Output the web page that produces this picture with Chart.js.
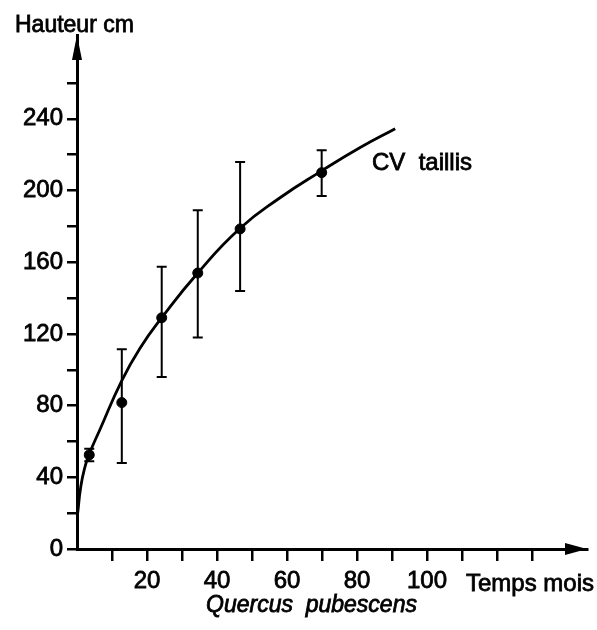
<!DOCTYPE html>
<html>
<head>
<meta charset="utf-8">
<script src="https://cdn.jsdelivr.net/npm/chart.js@4"></script>
<style>
  body { margin: 0; background: #fff; }
  canvas { display: block; }
</style>
</head>
<body>
<canvas id="chart" width="597" height="630"></canvas>
<script>
// courbe ajustée
const curveMonths  = [0.2, 1.1, 2.3, 3.5, 6.4, 12.8, 18, 24.2, 34.5, 46.6, 58, 69.9, 80.9, 90.9];
const curveHeights = [20, 35, 46, 53, 66, 94, 112, 129, 154, 179, 196, 211, 224, 234.5];

// mesures moyennes + barres d'erreur
const pointMonths  = [3.5, 12.8, 24.2, 34.5, 46.6, 69.9];
const pointHeights = [52.5, 81.7, 129, 154, 178.6, 210];
const errLow       = [49, 48, 96, 118, 144, 197];
const errHigh      = [56, 111.5, 157.5, 189, 216, 222.5];

// graduations
const xTickLabels = [20, 40, 60, 80, 100];
const yTickLabels = [0, 40, 80, 120, 160, 200, 240];

const FONT = '"Liberation Sans", Arial, sans-serif';
const INK = '#000';

const toXY = (xs, ys) => xs.map((x, i) => ({ x: x, y: ys[i] }));

// barres d'erreur
const errorBars = {
    id: 'errorBars',
    afterDatasetsDraw(chart) {
        const { ctx, scales: { x, y } } = chart;
        ctx.save();
        ctx.strokeStyle = INK;
        ctx.lineWidth = 2;
        pointMonths.forEach((m, i) => {
            const px = x.getPixelForValue(m);
            const lo = y.getPixelForValue(errLow[i]);
            const hi = y.getPixelForValue(errHigh[i]);
            ctx.beginPath();
            ctx.moveTo(px, lo); ctx.lineTo(px, hi);
            ctx.moveTo(px - 5, lo); ctx.lineTo(px + 5, lo);
            ctx.moveTo(px - 5, hi); ctx.lineTo(px + 5, hi);
            ctx.stroke();
        });
        ctx.restore();
    }
};

function boldText(ctx, txt, x, y) {
    ctx.fillText(txt, x, y);
    ctx.strokeText(txt, x, y);
}

// flèches des axes + textes
const decorations = {
    id: 'decorations',
    afterDraw(chart) {
        const { ctx, chartArea: a } = chart;
        ctx.save();
        ctx.fillStyle = INK;
        ctx.strokeStyle = INK;
        ctx.beginPath();
        ctx.moveTo(a.left, a.top);
        ctx.lineTo(a.left - 5, a.top + 25);
        ctx.lineTo(a.left + 5, a.top + 25);
        ctx.closePath();
        ctx.fill();
        ctx.beginPath();
        ctx.moveTo(a.right, a.bottom);
        ctx.lineTo(a.right - 22, a.bottom - 6);
        ctx.lineTo(a.right - 22, a.bottom + 6);
        ctx.closePath();
        ctx.fill();

        ctx.lineWidth = 0.8;
        ctx.textBaseline = 'alphabetic';
        ctx.textAlign = 'left';
        ctx.font = '23px ' + FONT;
        boldText(ctx, 'Hauteur cm', 15, 32);
        ctx.font = '24px ' + FONT;
        boldText(ctx, 'Temps mois', 466, 591);
        boldText(ctx, 'CV  taillis', 372, 170);
        ctx.font = 'italic 23px ' + FONT;
        boldText(ctx, 'Quercus  pubescens', 206, 612);
        ctx.restore();
    }
};

new Chart(document.getElementById('chart'), {
    type: 'scatter',
    data: {
        datasets: [
            {
                data: toXY(curveMonths, curveHeights),
                showLine: true,
                borderColor: INK,
                borderWidth: 2.8,
                pointRadius: 0,
                tension: 0.5
            },
            {
                data: toXY(pointMonths, pointHeights),
                pointRadius: 5,
                pointBackgroundColor: INK,
                pointBorderColor: INK,
                showLine: false
            }
        ]
    },
    options: {
        responsive: false,
        animation: false,
        devicePixelRatio: 1,
        layout: { padding: { left: 0, top: 35, right: 10, bottom: 0 } },
        plugins: { legend: { display: false }, tooltip: { enabled: false } },
        scales: {
            x: {
                type: 'linear',
                min: 0,
                max: 145.7,
                afterFit: s => { s.height = 81; },
                afterBuildTicks: s => {
                    s.ticks = s.ticks.filter(t => t.value >= 10 && t.value <= 130);
                },
                border: { display: true, color: INK, width: 3 },
                grid: { drawOnChartArea: false, drawTicks: true, tickLength: 12, color: INK, lineWidth: 2.5 },
                ticks: {
                    stepSize: 10,
                    autoSkip: false,
                    maxRotation: 0,
                    padding: 6,
                    color: INK,
                    textStrokeColor: INK,
                    textStrokeWidth: 0.8,
                    font: { family: FONT, size: 24 },
                    callback: v => xTickLabels.includes(v) ? String(v) : ''
                }
            },
            y: {
                type: 'linear',
                min: 0,
                max: 286.8,
                afterFit: s => { s.width = 77; },
                afterBuildTicks: s => {
                    s.ticks = s.ticks.filter(t => t.value <= 260);
                },
                border: { display: true, color: INK, width: 3 },
                grid: { drawOnChartArea: false, drawTicks: true, tickLength: 10, color: INK, lineWidth: 2.5 },
                ticks: {
                    stepSize: 20,
                    autoSkip: false,
                    padding: 4,
                    color: INK,
                    textStrokeColor: INK,
                    textStrokeWidth: 0.8,
                    font: { family: FONT, size: 24 },
                    callback: v => yTickLabels.includes(v) ? String(v) : ''
                }
            }
        }
    },
    plugins: [errorBars, decorations]
});
</script>
</body>
</html>
